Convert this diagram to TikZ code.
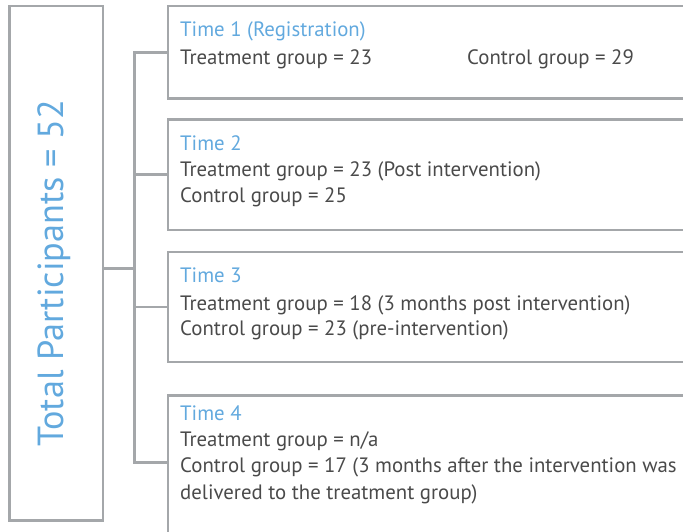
\documentclass[tikz,border=0pt]{standalone}
\usepackage{fontspec}
\setmainfont{PT Sans}
\usetikzlibrary{calc}
\definecolor{framegray}{HTML}{A4A7AA}
\definecolor{headblue}{HTML}{62A9DE}
\definecolor{bodygray}{HTML}{4A4A4A}
\tikzset{box/.style={draw=framegray, line width=2.6pt, outer sep=0pt, inner sep=0pt, anchor=north west},
 link/.style={draw=framegray, line width=2.6pt},
 head/.style={anchor=base west, inner sep=0pt, text=headblue, font=\fontsize{20.8}{25}\selectfont},
 body/.style={anchor=base west, inner sep=0pt, text=bodygray, font=\fontsize{20.8}{25}\selectfont},
 total/.style={anchor=base, inner sep=0pt, text=headblue, rotate=90, font=\fontsize{36.3}{42}\selectfont},
 }

\begin{document}
\begin{tikzpicture}[x=1pt, y=-1pt]
        \clip (0,0) rectangle (683,531);
        % left box
        \node[box, minimum width=93.5pt, minimum height=514.7pt] (total) at (9.5,6) {};
        \node[total] (totaltxt) at (63,273) {Total Participants = 52};
        % the four time points
        \node[box, minimum width=580pt, minimum height=92.7pt] (t1) at (168,6) {};
        \node[box, minimum width=580pt, minimum height=110.7pt] (t2) at (168,119.3) {};
        \node[box, minimum width=580pt, minimum height=110pt] (t3) at (168,252) {};
        \node[box, minimum width=580pt, minimum height=140pt] (t4) at (168,395.3) {};
        % connectors
        \coordinate (trunk) at (134.7,268.7);
        \coordinate (t4in) at ([yshift=2.6pt]t4.west);
        \draw[link] (total.east |- trunk) -- (trunk);
        \draw[link] (t1.west) -| (trunk) |- (t4in);
        \draw[link] (t2.west) -- (t2.west -| trunk);
        \draw[link] (t3.west) -- (t3.west -| trunk);
        % texts
        \node[head] (h1) at (180,36.7) {Time 1 (Registration)};
        \node[body] (tr1) at (180,64) {Treatment group = 23};
        \node[body] (co1) at (467,64) {Control group = 29};
        \node[head] (h2) at (180,150.7) {Time 2};
        \node[body] (tr2) at (180,176.7) {Treatment group = 23 (Post intervention)};
        \node[body] (co2) at (180,202.7) {Control group = 25};
        \node[head] (h3) at (180,282.3) {Time 3};
        \node[body] (tr3) at (180,310) {Treatment group = 18 (3 months post intervention)};
        \node[body] (co3) at (180,335) {Control group = 23 (pre-intervention)};
        \node[head] (h4) at (180,420.7) {Time 4};
        \node[body] (tr4) at (180,446) {Treatment group = n/a};
        \node[body] (co4) at (180,472.7) {Control group = 17 (3 months after the intervention was};
        \node[body] (de4) at (180,499) {delivered to the treatment group)};
    \end{tikzpicture}
\end{document}
